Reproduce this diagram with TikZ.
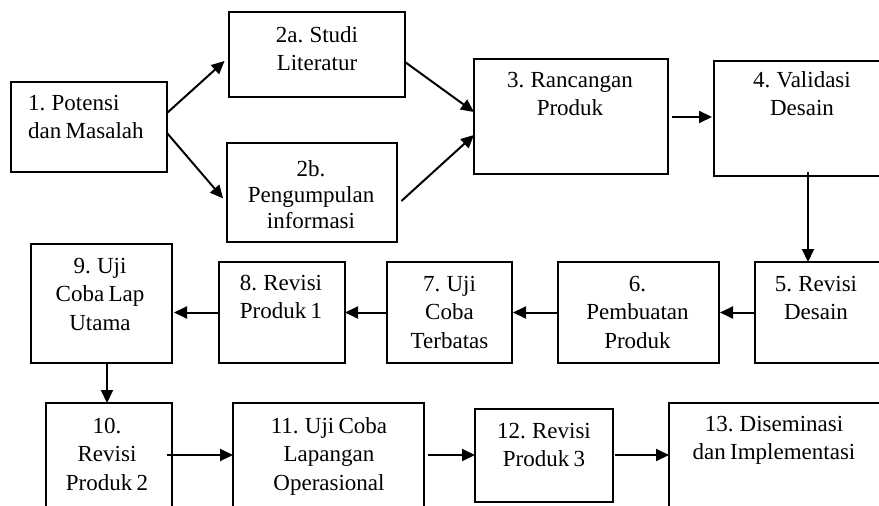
\documentclass[tikz,border=0pt]{standalone}
\usepackage{fontspec}
\setmainfont{Liberation Serif}[WordSpace=0.75]
\usetikzlibrary{arrows.meta}
\begin{document}
\begin{tikzpicture}[x=1pt,y=-1pt,
  box/.style={draw=black, line width=2pt, inner sep=0pt, outer sep=0pt, fill=none},
  txt/.style={inner sep=0pt, align=center, anchor=base, font=\fontsize{23}{28.5}\selectfont},
  arr/.style={line width=2pt, -{Triangle[length=13pt,width=12pt]}}]
\useasboundingbox (0,0) rectangle (879,506);
\clip (0,0) rectangle (879,506);
% boxes
\node[box, minimum width=156pt, minimum height=90pt]  (n1)  at (89,127) {};
\node[box, minimum width=176pt, minimum height=85pt]  (n2a) at (317,54.5) {};
\node[box, minimum width=170pt, minimum height=99pt]  (n2b) at (312,192.5) {};
\node[box, minimum width=194pt, minimum height=115pt] (n3)  at (571,116.5) {};
\node[box, minimum width=176pt, minimum height=115pt] (n4)  at (802,118.5) {};
\node[box, minimum width=130pt, minimum height=101pt] (n5)  at (820,312.5) {};
\node[box, minimum width=161pt, minimum height=101pt] (n6)  at (638.5,312.5) {};
\node[box, minimum width=125pt, minimum height=101pt] (n7)  at (449.5,312.5) {};
\node[box, minimum width=126pt, minimum height=101pt] (n8)  at (282,312.5) {};
\node[box, minimum width=141pt, minimum height=119pt] (n9)  at (101.5,303.5) {};
\node[box, minimum width=126pt, minimum height=112pt] (n10) at (109,459) {};
\node[box, minimum width=191pt, minimum height=112pt] (n11) at (328.5,459) {};
\node[box, minimum width=138pt, minimum height=93pt]  (n12) at (544,455.5) {};
\node[box, minimum width=216pt, minimum height=112pt] (n13) at (777,459) {};
% texts (anchored at the baseline of the last line)
\node[txt, align=left, anchor=base west] (t1) at (28,138.5) {1. Potensi\\dan Masalah};
\node[txt] (t2a) at (317,70.5) {2a. Studi\\Literatur};
\node[txt, font=\fontsize{23}{26}\selectfont] (t2b) at (311,228) {2b.\\Pengumpulan\\informasi};
\node[txt] (t3)  at (570,115.5)  {3. Rancangan\\Produk};
\node[txt] (t4)  at (802,115.5)  {4. Validasi\\Desain};
\node[txt] (t5)  at (816,319.5) {5. Revisi\\Desain};
\node[txt] (t6)  at (637.5,348) {6.\\Pembuatan\\Produk};
\node[txt] (t7)  at (449.5,348) {7. Uji\\Coba\\Terbatas};
\node[txt] (t8)  at (281,318.5) {8. Revisi\\Produk 1};
\node[txt] (t9)  at (100,330) {9. Uji\\Coba Lap\\Utama};
\node[txt] (t10) at (107,490) {10.\\Revisi\\Produk 2};
\node[txt] (t11) at (329,490) {11. Uji Coba\\Lapangan\\Operasional};
\node[txt] (t12) at (544,466.5) {12. Revisi\\Produk 3};
\node[txt] (t13) at (774,459.5) {13. Diseminasi\\dan Implementasi};
% arrows
\draw[arr, shorten >=6pt] (n1.east |- 0,113) -- (n2a.west |- 0,57);
\draw[arr, shorten >=6pt] (n1.east |- 0,133) -- (n2b.west |- 0,203);
\draw[arr] (n2a.east |- 0,62) -- (n3.west |- 0,112);
\draw[arr, shorten <=6pt] (n2b.east |- 0,205) -- (n3.west |- 0,135);
\draw[arr, shorten <=4pt, shorten >=2pt] (n3.east |- 0,117) -- (n4.west |- 0,117);
\draw[arr, shorten <=-4pt] (n4.south -| 808,0) -- (n5.north -| 808,0);
\draw[arr, shorten >=1pt] (n5.west) -- (n6.east);
\draw[arr, shorten >=1pt] (n6.west) -- (n7.east);
\draw[arr] (n7.west) -- (n8.east);
\draw[arr, shorten >=2pt] (n8.west) -- (n9.east |- n8.west);
\draw[arr] (n9.south -| 107,0) -- (n10.north -| 107,0);
\draw[arr, shorten <=-5pt] (n10.east |- 0,455) -- (n11.west |- 0,455);
\draw[arr, shorten <=4pt] (n11.east |- 0,455) -- (n12.west |- 0,455);
\draw[arr, shorten <=2pt] (n12.east |- 0,455) -- (n13.west |- 0,455);
\end{tikzpicture}
\end{document}
